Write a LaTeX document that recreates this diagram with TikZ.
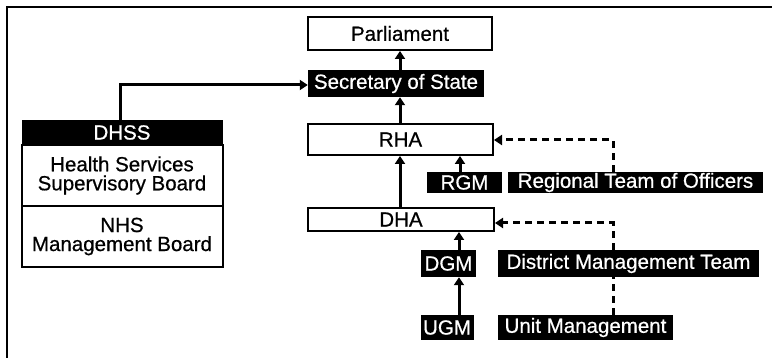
\documentclass[tikz,border=0pt]{standalone}
\usepackage{fontspec}
\setmainfont{Liberation Sans}[FakeBold=0.6]
\usetikzlibrary{arrows.meta}
\begin{document}
\begin{tikzpicture}[x=1pt,y=-1pt,
  every node/.style={font=\fontsize{20.5}{22}\selectfont},
  wbox/.style={draw=black,line width=2pt,fill=white,inner sep=0pt,align=center},
  bbox/.style={fill=black,text=white,inner sep=0pt},
  arr/.style={line width=3pt,-{Triangle[width=10pt,length=8pt]}},
  darr/.style={line width=3pt,dash pattern=on 7pt off 5pt,-{Triangle[width=10pt,length=8pt]}},
  dline/.style={line width=3pt,dash pattern=on 7pt off 5pt}]
\useasboundingbox (0,0) rectangle (772,358);
% frame
\draw[line width=2.5pt] (7,358) -- (7,7) -- (772,7);
% right column
\node[wbox,minimum width=184pt,minimum height=33pt] (parl) at (400,33.5) {Parliament};
\node[bbox,minimum width=176pt,minimum height=27pt] (sos) at (396,83.5) {Secretary of State};
\node[wbox,minimum width=185pt,minimum height=31pt] (rha) at (400.5,139.5) {RHA};
\node[wbox,minimum width=186pt,minimum height=23pt] (dha) at (401,219.5) {DHA};
\node[bbox,minimum width=75pt,minimum height=21pt] (rgm) at (464.5,182.5) {RGM};
\node[bbox,minimum width=255pt,minimum height=21pt] (rto) at (635.5,182.5) {Regional Team of Officers};
\node[bbox,minimum width=55pt,minimum height=27pt] (dgm) at (448.5,263.5) {DGM};
\node[bbox,minimum width=261pt,minimum height=27pt] (dmt) at (628.5,263.5) {District Management Team};
\node[bbox,minimum width=53pt,minimum height=25pt] (ugm) at (447,327.5) {UGM};
\node[bbox,minimum width=175pt,minimum height=25pt] (um) at (585.5,327.5) {Unit Management};
% left group
\node[bbox,minimum width=201pt,minimum height=25pt] (dhss) at (122,132.5) {DHSS};
\node[wbox,minimum width=201pt,minimum height=61pt] (hssb) at (122,175.5) {Health Services\\[-3pt]Supervisory Board};
\node[wbox,minimum width=201pt,minimum height=61pt] (nhs) at (122,236.5) {NHS\\[-3pt]Management Board};
% helper coordinates
\coordinate (xa) at (400,0);
\coordinate (xr) at (460,0);
\coordinate (xg) at (459,0);
\coordinate (xd) at (613,0);
\coordinate (dr) at (613,140);
\coordinate (dd) at (613,223);
\coordinate (lk) at (120,85);
% connectors
\draw[arr] (sos.north -| xa) -- (parl.south -| xa);
\draw[arr] (rha.north -| xa) -- (sos.south -| xa);
\draw[arr] (dha.north -| xa) -- (rha.south -| xa);
\draw[arr] (rgm.north -| xr) -- (rha.south -| xr);
\draw[arr] (dgm.north -| xg) -- (dha.south -| xg);
\draw[arr] (ugm.north -| xg) -- (dgm.south -| xg);
\draw[arr] (dhss.north -| lk) -- (lk) -- (sos.west |- lk);
\draw[darr] (rto.north -| dr) -- (dr) -- (rha.east |- dr);
\draw[darr] (dmt.north -| dd) -- (dd) -- (dha.east |- dd);
\draw[dline] (um.north -| xd) -- (dmt.south -| xd);
\end{tikzpicture}
\end{document}
